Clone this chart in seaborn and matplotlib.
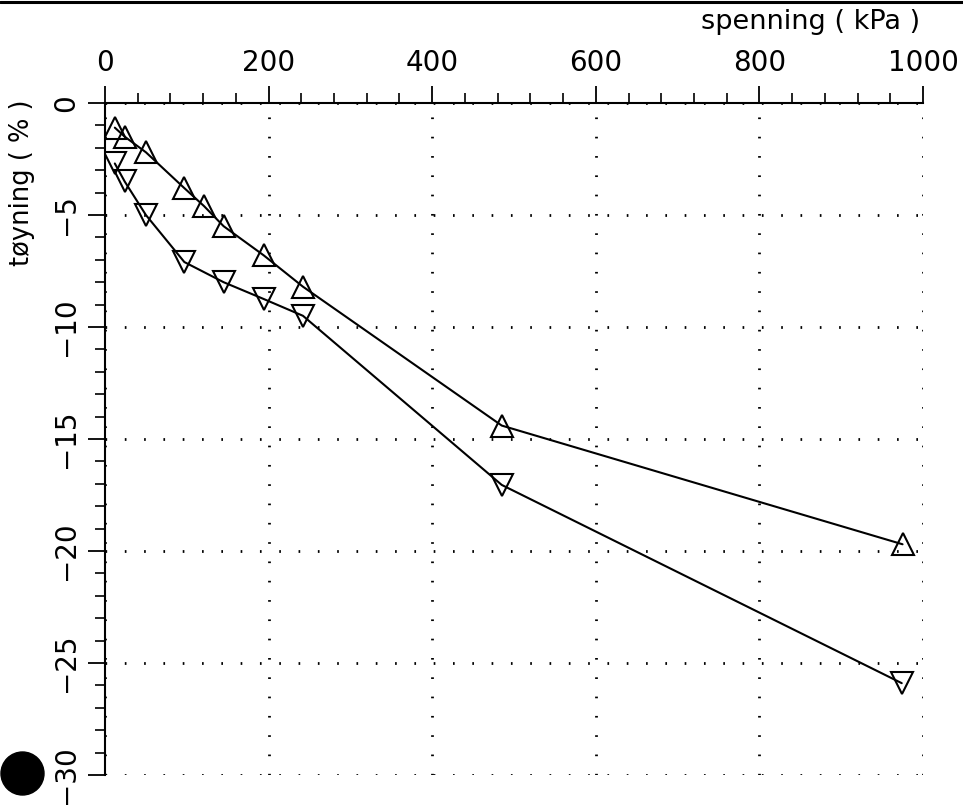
import matplotlib
matplotlib.use("Agg")
import matplotlib.pyplot as plt
from matplotlib.ticker import MultipleLocator
from matplotlib.patches import Ellipse
from matplotlib.lines import Line2D
import pandas as pd
import seaborn as sns

# Stress (kPa) and strain (%) for the two load series
spenning_opp = [12, 24, 50, 97, 121, 145, 194, 242, 485, 975]
toyning_opp = [-1.1, -1.5, -2.2, -3.8, -4.6, -5.5, -6.8, -8.2, -14.4, -19.7]
spenning_ned = [12, 24, 50, 97, 145, 194, 242, 485, 974]
toyning_ned = [-2.7, -3.5, -5.0, -7.1, -8.0, -8.75, -9.5, -17.05, -25.9]

x_ticks = [0, 200, 400, 600, 800, 1000]
y_ticks = [0, -5, -10, -15, -20, -25, -30]

df = pd.concat([
    pd.DataFrame({"spenning": spenning_opp, "toyning": toyning_opp, "serie": "opp"}),
    pd.DataFrame({"spenning": spenning_ned, "toyning": toyning_ned, "serie": "ned"}),
], ignore_index=True)

sns.set_style("white")
plt.rcParams["font.family"] = ["DejaVu Sans"]

W, H = 963, 806
fig = plt.figure(figsize=(W / 100, H / 100), dpi=100)
ax = fig.add_axes([105 / W, 1 - 775 / H, (923 - 105) / W, (775 - 103) / H])

sns.lineplot(data=df, x="spenning", y="toyning", style="serie",
             markers={"opp": "^", "ned": "v"}, dashes=False, color="black",
             linewidth=1.5, markersize=16, fillstyle="none",
             markeredgecolor="black", markeredgewidth=1.5,
             legend=False, ax=ax)
for ln in ax.lines:
    ln.set_markerfacecolor("none")
    ln.set_markeredgecolor("black")

ax.set_xlim(0, 1000)
ax.set_ylim(-30, 0)
ax.xaxis.tick_top()
ax.set_xticks(x_ticks)
ax.set_yticks(y_ticks)
ax.set_yticklabels([f"{v:d}".replace("-", "\u2212") for v in y_ticks])
ax.xaxis.set_minor_locator(MultipleLocator(40))
ax.yaxis.set_minor_locator(MultipleLocator(1))
ax.set_xlabel("")
ax.set_ylabel("")

for side in ("bottom", "right"):
    ax.spines[side].set_visible(False)
for side in ("top", "left"):
    ax.spines[side].set_linewidth(1.5)
    ax.spines[side].set_color("black")

ax.tick_params(axis="both", which="major", direction="out", length=12,
               width=1.3, color="black", labelsize=20, labelcolor="black")
ax.tick_params(axis="both", which="minor", direction="out", length=7,
               width=1.2, color="black")
ax.tick_params(axis="x", which="both", top=True, bottom=False, pad=7)
ax.tick_params(axis="y", which="both", left=True, right=False, pad=6)
for lab in ax.get_yticklabels():
    lab.set_rotation(90)
    lab.set_va("center")

ax.grid(True, which="major", color="black", linestyle=(0, (0.6, 6.35)),
        linewidth=2.0)
ax.set_axisbelow(True)

fig.text(920 / W, 1 - 29 / H, "spenning ( kPa )", ha="right", va="baseline",
         fontsize=19.5, color="black")
fig.text(22 / W, 1 - 100 / H, "tøyning ( % )", ha="center", va="top",
         rotation=90, fontsize=18.5, color="black")

# punched hole and page edge of the sheet
fig.add_artist(Ellipse((22.5 / W, 1 - 773.5 / H), width=43 / W, height=43 / H,
                       transform=fig.transFigure, color="black"))
fig.add_artist(Line2D([0, 1], [1 - 1.5 / H, 1 - 1.5 / H], color="black",
                      linewidth=2.2, transform=fig.transFigure))

fig.savefig("out.png", dpi=100)
